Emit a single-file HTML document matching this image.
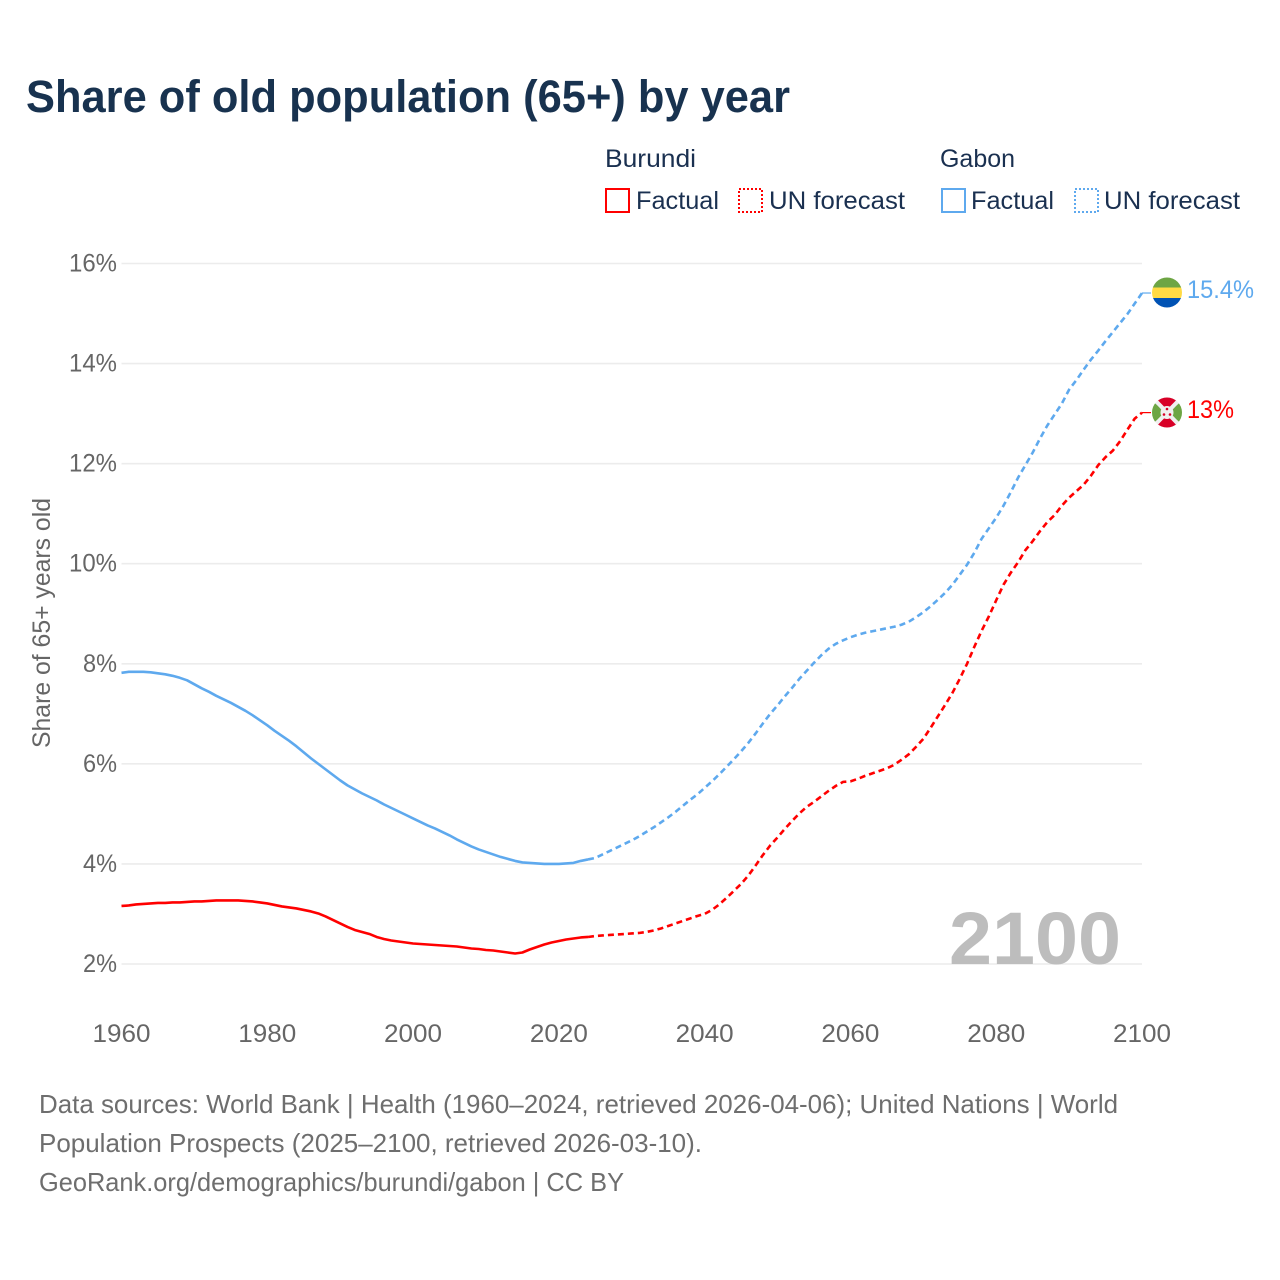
<!DOCTYPE html>
<html lang="en">
<head>
<meta charset="utf-8">
<title>Share of old population (65+) by year</title>
<style>
html,body{margin:0;padding:0;background:#fff;}
svg{display:block;font-family:"Liberation Sans",sans-serif;}
.leg{font-size:25px;fill:#1a3050;}
.tick{font-size:25px;fill:#666;}
.foot{font-size:26px;fill:#6e6e6e;}
</style>
</head>
<body>
<svg id="chart" width="1280" height="1280" viewBox="0 0 1280 1280" xmlns="http://www.w3.org/2000/svg">
<rect width="1280" height="1280" fill="#fff"/>
<text x="26" y="112" font-size="45" font-weight="700" fill="#18324f" textLength="764" lengthAdjust="spacingAndGlyphs">Share of old population (65+) by year</text>

<g>
<text class="leg" x="605" y="167" textLength="91" lengthAdjust="spacingAndGlyphs">Burundi</text>
<text class="leg" x="940" y="167" textLength="75" lengthAdjust="spacingAndGlyphs">Gabon</text>
<rect x="606" y="189" width="23" height="23" fill="#fff" stroke="#ff0000" stroke-width="2"/>
<text class="leg" x="636" y="209" textLength="83" lengthAdjust="spacingAndGlyphs">Factual</text>
<rect x="739" y="189" width="23" height="23" fill="#fff" stroke="#ff0000" stroke-width="2" stroke-dasharray="2 2"/>
<text class="leg" x="769" y="209" textLength="136" lengthAdjust="spacingAndGlyphs">UN forecast</text>
<rect x="942" y="189" width="23" height="23" fill="#fff" stroke="#5ea9ee" stroke-width="2"/>
<text class="leg" x="971" y="209" textLength="83" lengthAdjust="spacingAndGlyphs">Factual</text>
<rect x="1075" y="189" width="23" height="23" fill="#fff" stroke="#5ea9ee" stroke-width="2" stroke-dasharray="2 2"/>
<text class="leg" x="1104" y="209" textLength="136" lengthAdjust="spacingAndGlyphs">UN forecast</text>
</g>

<text class="tick" transform="translate(50,748) rotate(-90)" x="0" y="0" textLength="250" lengthAdjust="spacingAndGlyphs">Share of 65+ years old</text>

<g id="grid"></g>
<g id="xticks"></g>
<g id="yticks"></g>

<text x="949" y="964" font-size="74" font-weight="700" fill="#bdbdbd" textLength="172" lengthAdjust="spacingAndGlyphs">2100</text>

<g id="series"></g>

<g>
<clipPath id="clipG"><circle cx="1167" cy="292.5" r="15"/></clipPath>
<g clip-path="url(#clipG)">
<rect x="1152" y="277" width="30" height="10.5" fill="#6da544"/>
<rect x="1152" y="287.5" width="30" height="10.5" fill="#ffda44"/>
<rect x="1152" y="298" width="30" height="10.5" fill="#0052b4"/>
</g>
</g>
<g>
<clipPath id="clipB"><circle cx="1167" cy="412.5" r="15"/></clipPath>
<g clip-path="url(#clipB)">
<rect x="1152" y="397" width="30" height="31" fill="#f0f0f0"/>
<path d="M1155 397L1179 397L1167 412.5Z M1155 428L1179 428L1167 412.5Z" fill="#d80027"/>
<path d="M1152 401L1152 424L1167 412.5Z M1182 401L1182 424L1167 412.5Z" fill="#6da544"/>
<path d="M1152 397L1182 428M1182 397L1152 428" stroke="#f0f0f0" stroke-width="4"/>
<circle cx="1167" cy="412.5" r="6.5" fill="#f0f0f0"/>
<circle cx="1167" cy="409" r="1.3" fill="#d80027"/>
<circle cx="1164" cy="414.5" r="1.3" fill="#d80027"/>
<circle cx="1170" cy="414.5" r="1.3" fill="#d80027"/>
</g>
</g>
<text x="1187" y="298" font-size="25" fill="#5ea9ee" textLength="67" lengthAdjust="spacingAndGlyphs">15.4%</text>
<text x="1187" y="418" font-size="25" fill="#ff0000" textLength="47" lengthAdjust="spacingAndGlyphs">13%</text>

<g>
<text class="foot" x="39" y="1113" textLength="1079" lengthAdjust="spacingAndGlyphs">Data sources: World Bank | Health (1960–2024, retrieved 2026-04-06); United Nations | World</text>
<text class="foot" x="39" y="1152" textLength="663" lengthAdjust="spacingAndGlyphs">Population Prospects (2025–2100, retrieved 2026-03-10).</text>
<text class="foot" x="39" y="1191" textLength="585" lengthAdjust="spacingAndGlyphs">GeoRank.org/demographics/burundi/gabon | CC BY</text>
</g>
</svg>
<script>
const xTickYears = [1960,1980,2000,2020,2040,2060,2080,2100];
const yTickValues = [2,4,6,8,10,12,14,16];
const factualStartYear = 1960;
const forecastStartYear = 2024;
const gabonFactual = [
7.82,7.84,7.84,7.84,7.83,7.81,7.79,7.76,7.72,7.67,
7.59,7.51,7.44,7.36,7.29,7.22,7.14,7.06,6.97,6.87,
6.77,6.66,6.56,6.46,6.35,6.23,6.11,6.00,5.89,5.78,
5.67,5.57,5.49,5.41,5.34,5.27,5.19,5.12,5.05,4.98,
4.91,4.84,4.77,4.71,4.64,4.57,4.49,4.42,4.35,4.29,
4.24,4.19,4.14,4.10,4.06,4.03,4.02,4.01,4.00,4.00,
4.00,4.01,4.02,4.06,4.09];
const gabonForecast = [
4.09,4.12,4.19,4.26,4.33,4.40,4.47,4.55,4.64,4.73,4.83,
4.93,5.04,5.16,5.28,5.39,5.52,5.65,5.79,5.94,6.09,
6.25,6.42,6.61,6.81,7.00,7.17,7.35,7.52,7.70,7.86,
8.02,8.17,8.30,8.40,8.47,8.53,8.58,8.62,8.65,8.68,
8.71,8.74,8.78,8.84,8.93,9.03,9.15,9.28,9.42,9.58,
9.78,9.98,10.22,10.50,10.71,10.92,11.16,11.43,11.72,11.97,
12.22,12.50,12.76,12.98,13.20,13.48,13.67,13.88,14.08,14.26,
14.45,14.63,14.81,14.99,15.20,15.41];
const burundiFactual = [
3.16,3.17,3.19,3.20,3.21,3.22,3.22,3.23,3.23,3.24,
3.25,3.25,3.26,3.27,3.27,3.27,3.27,3.26,3.25,3.23,
3.21,3.18,3.15,3.13,3.11,3.08,3.05,3.01,2.95,2.88,
2.81,2.74,2.68,2.64,2.60,2.54,2.50,2.47,2.45,2.43,
2.41,2.40,2.39,2.38,2.37,2.36,2.35,2.33,2.31,2.30,
2.28,2.27,2.25,2.23,2.21,2.23,2.29,2.34,2.39,2.43,
2.46,2.49,2.51,2.53,2.54];
const burundiForecast = [
2.54,2.56,2.57,2.58,2.59,2.60,2.61,2.62,2.64,2.67,2.71,
2.76,2.81,2.86,2.91,2.96,3.00,3.08,3.19,3.32,3.46,
3.60,3.77,3.97,4.18,4.37,4.53,4.70,4.86,5.01,5.14,
5.24,5.35,5.46,5.56,5.64,5.65,5.70,5.76,5.81,5.86,
5.91,5.98,6.08,6.19,6.34,6.50,6.72,6.95,7.18,7.42,
7.70,8.00,8.34,8.66,8.95,9.27,9.58,9.82,10.03,10.27,
10.45,10.65,10.83,10.97,11.16,11.32,11.45,11.58,11.76,11.97,
12.13,12.26,12.45,12.68,12.90,13.02];

const NS = 'http://www.w3.org/2000/svg';
function xScale(year){ return 121.5 + (year - 1960) * (1142 - 121.5) / 140; }
function yScale(v){ return 964 - (v - 2) * (964 - 263.5) / 14; }
function pathFrom(values, startYear){
  return values.map(function(v,i){
    return (i ? 'L' : 'M') + xScale(startYear + i).toFixed(2) + ' ' + yScale(v).toFixed(2);
  }).join('');
}
const grid = document.getElementById('grid');
const yT = document.getElementById('yticks');
yTickValues.forEach(function(v){
  const l = document.createElementNS(NS,'line');
  
  
  l.setAttribute('x1', xScale(1960));
  l.setAttribute('x2', xScale(2100));
  l.setAttribute('y1', yScale(v));
  l.setAttribute('y2', yScale(v));
  l.setAttribute('stroke', '#ececec');
  l.setAttribute('stroke-width', '1.6');
  grid.appendChild(l);
  const t = document.createElementNS(NS,'text');
  
  
  const label = v + '%';
  t.setAttribute('class', 'tick');
  t.setAttribute('x', label.length === 3 ? 69 : 83);
  t.setAttribute('y', yScale(v) + 8);
  t.setAttribute('textLength', label.length === 3 ? 48 : 34);
  t.setAttribute('lengthAdjust', 'spacingAndGlyphs');
  t.textContent = label;
  yT.appendChild(t);
});
const xT = document.getElementById('xticks');
xTickYears.forEach(function(y){
  const t = document.createElementNS(NS,'text');
  
  
  t.setAttribute('class', 'tick');
  t.setAttribute('x', xScale(y) - 29);
  t.setAttribute('y', 1042);
  t.setAttribute('textLength', 58);
  t.setAttribute('lengthAdjust', 'spacingAndGlyphs');
  t.textContent = y;
  xT.appendChild(t);
});
const series = document.getElementById('series');
function addLine(name, values, startYear, color, dash){
  const p = document.createElementNS(NS,'path');
  
  
  p.setAttribute('d', pathFrom(values, startYear));
  p.setAttribute('fill', 'none');
  p.setAttribute('stroke', color);
  p.setAttribute('stroke-width', '2.6');
  p.setAttribute('stroke-linejoin', 'round');
  if (dash) p.setAttribute('stroke-dasharray', dash);
  series.appendChild(p);
}
function addConnector(name, value, color){
  const l = document.createElementNS(NS,'line');
  
  
  l.setAttribute('x1', xScale(2100));
  l.setAttribute('x2', xScale(2100) + 9);
  l.setAttribute('y1', yScale(value));
  l.setAttribute('y2', yScale(value));
  l.setAttribute('stroke', color);
  l.setAttribute('stroke-width', '1.2');
  series.appendChild(l);
}
addLine('gabon-factual-line', gabonFactual, factualStartYear, '#5ea9ee');
addLine('gabon-forecast-line', gabonForecast, forecastStartYear, '#5ea9ee', '6 4');
addLine('burundi-factual-line', burundiFactual, factualStartYear, '#ff0000');
addLine('burundi-forecast-line', burundiForecast, forecastStartYear, '#ff0000', '6 4');
addConnector('gabon-connector', gabonForecast[gabonForecast.length - 1], '#5ea9ee');
addConnector('burundi-connector', burundiForecast[burundiForecast.length - 1], '#ff0000');
</script>
</body>
</html>
